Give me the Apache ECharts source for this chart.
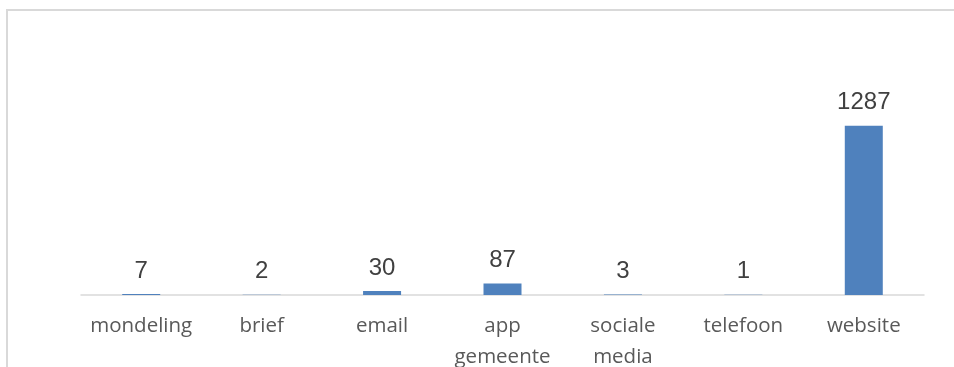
<!DOCTYPE html>
<html>
<head>
<meta charset="utf-8">
<script src="https://cdn.jsdelivr.net/npm/echarts@6/dist/echarts.min.js"></script>
<style>
  html, body { margin: 0; padding: 0; background: #fff; }
  #chart { width: 954px; height: 367px; }
</style>
</head>
<body>
<div id="chart"></div>
<script>
// Contact channels and number of reports per channel
const channels = ['mondeling', 'brief', 'email', 'app\ngemeente', 'sociale\nmedia', 'telefoon', 'website'];
const counts = [7, 2, 30, 87, 3, 1, 1287];

const chart = echarts.init(document.getElementById('chart'));
chart.setOption({
  animation: false,
  backgroundColor: '#ffffff',
  graphic: [{
    type: 'rect',
    shape: { x: 7, y: 10, width: 1200, height: 600 },
    style: { fill: 'none', stroke: '#d9d9d9', lineWidth: 2 },
    silent: true
  }],
  grid: {
    left: 81, right: 30, top: 111, bottom: 72,
    containLabel: false,
    outerBoundsMode: 'none'
  },
  xAxis: {
    type: 'category',
    data: channels,
    axisLine: { lineStyle: { color: '#d9d9d9', width: 1.5 } },
    axisTick: { show: false },
    axisLabel: {
      color: '#595959',
      fontFamily: 'Open Sans',
      fontSize: 20.5,
      lineHeight: 31,
      margin: 16,
      interval: 0
    }
  },
  yAxis: {
    type: 'value',
    min: 0,
    max: 1400,
    show: false,
    splitLine: { show: false }
  },
  series: [{
    type: 'bar',
    data: counts,
    barWidth: 38,
    itemStyle: { color: '#4f81bd' },
    label: {
      show: true,
      position: 'top',
      distance: 11,
      color: '#404040',
      fontFamily: 'Liberation Sans',
      fontSize: 24
    }
  }]
});
</script>
</body>
</html>
